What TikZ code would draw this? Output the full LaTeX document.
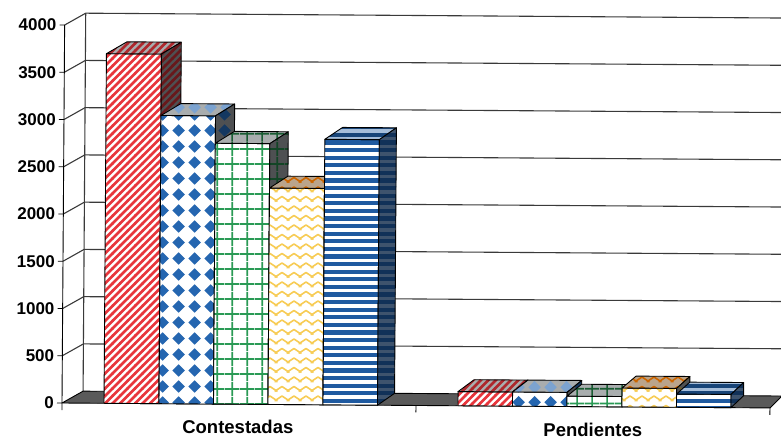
\documentclass[tikz,border=0pt]{standalone}
\usepackage{fontspec}
\setmainfont{Liberation Sans}
\usetikzlibrary{patterns}

\definecolor{cR}{HTML}{E8363C}
\definecolor{cB}{HTML}{2566B0}
\definecolor{cG}{HTML}{2A9A55}
\definecolor{cY}{HTML}{F7CC55}
\definecolor{cS}{HTML}{1F5AA0}
\definecolor{floorgray}{HTML}{5A5A5A}
\definecolor{topbase}{HTML}{A9ADAE}
\definecolor{sidebase}{HTML}{4E5052}
\definecolor{gridcol}{HTML}{3A3A3A}

% red diagonal stripes
\pgfdeclarepatternformonly{rstripes}{\pgfqpoint{-1pt}{-1pt}}{\pgfqpoint{8.5pt}{8.5pt}}{\pgfqpoint{7.5pt}{7.5pt}}{%
  \pgfsetlinewidth{2.7pt}%
  \pgfpathmoveto{\pgfqpoint{-1pt}{-1pt}}\pgfpathlineto{\pgfqpoint{8.5pt}{8.5pt}}%
  \pgfusepath{stroke}}
% blue diamonds
\pgfdeclarepatternformonly{bdiam}{\pgfqpoint{0pt}{0pt}}{\pgfqpoint{15.5pt}{15.5pt}}{\pgfqpoint{15.5pt}{15.5pt}}{%
  \pgfpathmoveto{\pgfqpoint{7.75pt}{1.4pt}}\pgfpathlineto{\pgfqpoint{14.1pt}{7.75pt}}%
  \pgfpathlineto{\pgfqpoint{7.75pt}{14.1pt}}\pgfpathlineto{\pgfqpoint{1.4pt}{7.75pt}}%
  \pgfpathclose\pgfusepath{fill}}
% green grid
\pgfdeclarepatternformonly{ggrid}{\pgfqpoint{0pt}{0pt}}{\pgfqpoint{15pt}{15pt}}{\pgfqpoint{15pt}{15pt}}{%
  \pgfsetlinewidth{1.8pt}%
  \pgfpathmoveto{\pgfqpoint{7.5pt}{0pt}}\pgfpathlineto{\pgfqpoint{7.5pt}{15pt}}%
  \pgfpathmoveto{\pgfqpoint{0pt}{7.5pt}}\pgfpathlineto{\pgfqpoint{15pt}{7.5pt}}%
  \pgfusepath{stroke}}
% yellow zigzag
\pgfdeclarepatternformonly{yzig}{\pgfqpoint{-1.5pt}{0pt}}{\pgfqpoint{13.5pt}{9.5pt}}{\pgfqpoint{12pt}{9.5pt}}{%
  \pgfsetlinewidth{1.6pt}%
  \pgfpathmoveto{\pgfqpoint{-1.5pt}{2pt}}\pgfpathlineto{\pgfqpoint{6pt}{7pt}}%
  \pgfpathlineto{\pgfqpoint{13.5pt}{2pt}}%
  \pgfusepath{stroke}}
% blue horizontal stripes
\pgfdeclarepatternformonly{hstripes}{\pgfqpoint{-2pt}{0pt}}{\pgfqpoint{62pt}{7.6pt}}{\pgfqpoint{60pt}{7.6pt}}{%
  \pgfpathrectangle{\pgfqpoint{-2pt}{0pt}}{\pgfqpoint{64pt}{4.2pt}}%
  \pgfusepath{fill}}

\tikzset{
  grid/.style={draw=gridcol, line width=1.1pt},
  edge/.style={draw=black, line width=0.9pt, line join=round},
  frontR/.style={preaction={fill=white}, pattern=rstripes, pattern color=cR},
  topR/.style={preaction={fill=topbase}, pattern=rstripes, pattern color=cR!75!black},
  sideR/.style={preaction={fill=sidebase}, pattern=rstripes, pattern color=cR!45!black},
  frontB/.style={preaction={fill=white}, pattern=bdiam, pattern color=cB},
  topB/.style={preaction={fill=topbase}, pattern=bdiam, pattern color=cB!60!white},
  sideB/.style={preaction={fill=sidebase}, pattern=bdiam, pattern color=cB!55!black},
  frontG/.style={preaction={fill=white}, pattern=ggrid, pattern color=cG},
  topG/.style={preaction={fill=topbase}, pattern=ggrid, pattern color=cG!60!black},
  sideG/.style={preaction={fill=sidebase}, pattern=ggrid, pattern color=cG!45!black},
  frontY/.style={preaction={fill=white}, pattern=yzig, pattern color=cY},
  topY/.style={preaction={fill=topbase!80!orange}, pattern=yzig, pattern color=orange!80!black},
  sideY/.style={preaction={fill=sidebase}, pattern=yzig, pattern color=cY!45!black},
  frontS/.style={preaction={fill=white}, pattern=hstripes, pattern color=cS},
  topS/.style={preaction={fill=cS!40!white}, pattern=hstripes, pattern color=cS!75!black},
  sideS/.style={preaction={fill=cS!35!sidebase}, pattern=hstripes, pattern color=cS!55!black},
  ylab/.style={anchor=east, inner sep=0pt, font=\fontsize{17}{20}\selectfont\bfseries},
  catlab/.style={inner sep=0pt, font=\fontsize{18.5}{22}\selectfont\bfseries},
}

% x1, x2, value, key
\newcommand{\chartbar}[4]{%
  \pgfmathsetmacro{\ya}{403-0.0945*#3}%
  \pgfmathsetmacro{\da}{21-0.0127*(#1-62)}%
  \pgfmathsetmacro{\db}{21-0.0127*(#2-62)}%
  \path[front#4, edge] (#1,403) rectangle (#2,\ya);
  \path[top#4, edge] (#1,\ya) -- (#2,\ya) -- (#2+\db,\ya-12) -- (#1+\da,\ya-12) -- cycle;
  \path[side#4, edge] (#2,\ya) -- (#2+\db,\ya-12) -- (#2+\db,391) -- (#2,403) -- cycle;
}

\begin{document}
\begin{tikzpicture}[x=1pt,y=-1pt]
\useasboundingbox (0,0) rectangle (781,441);
\clip (0,0) rectangle (781,441);
\begin{scope}[rotate around={-0.4:(62,403)}]
  % back wall and left wall grid lines
  \foreach \v in {500,1000,...,4000} {
    \pgfmathsetmacro{\yy}{403-0.0945*\v}
    \draw[grid] (62,\yy) -- (83,\yy-12) -- (820,\yy-12);
  }
  \draw[grid] (83,13) -- (83,391);
  % floor
  \path[fill=floorgray, edge] (62,403) -- (770,403) -- (782,391) -- (83,391) -- cycle;
  % value axis
  \draw[edge] (62,25) -- (62,410);
  \foreach \v in {0,500,...,4000} {
    \pgfmathsetmacro{\yy}{403-0.0945*\v}
    \draw[edge] (57,\yy) -- (62,\yy);
  }
  % category ticks
  \draw[edge] (416,403) -- (416,410);
  \draw[edge] (770,403) -- (770,410);
  % Contestadas
  \chartbar{104}{159}{3700}{R}
  \chartbar{159}{213.5}{3050}{B}
  \chartbar{213.5}{268}{2760}{G}
  \chartbar{268}{323}{2290}{Y}
  \chartbar{323}{377.5}{2810}{S}
  % Pendientes
  \chartbar{458}{512.5}{150}{R}
  \chartbar{512.5}{567}{150}{B}
  \chartbar{567}{622}{110}{G}
  \chartbar{622}{676.5}{200}{Y}
  \chartbar{676.5}{731}{140}{S}
  % labels
  \foreach \v [count=\i] in {0,500,...,4000} {
    \node[ylab] (yl\i) at (54,403-0.0945*\v) {\v};
  }
  \node[catlab] (cat1) at (238,426) {Contestadas};
  \node[catlab] (cat2) at (593,426) {Pendientes};
\end{scope}
\end{tikzpicture}
\end{document}
